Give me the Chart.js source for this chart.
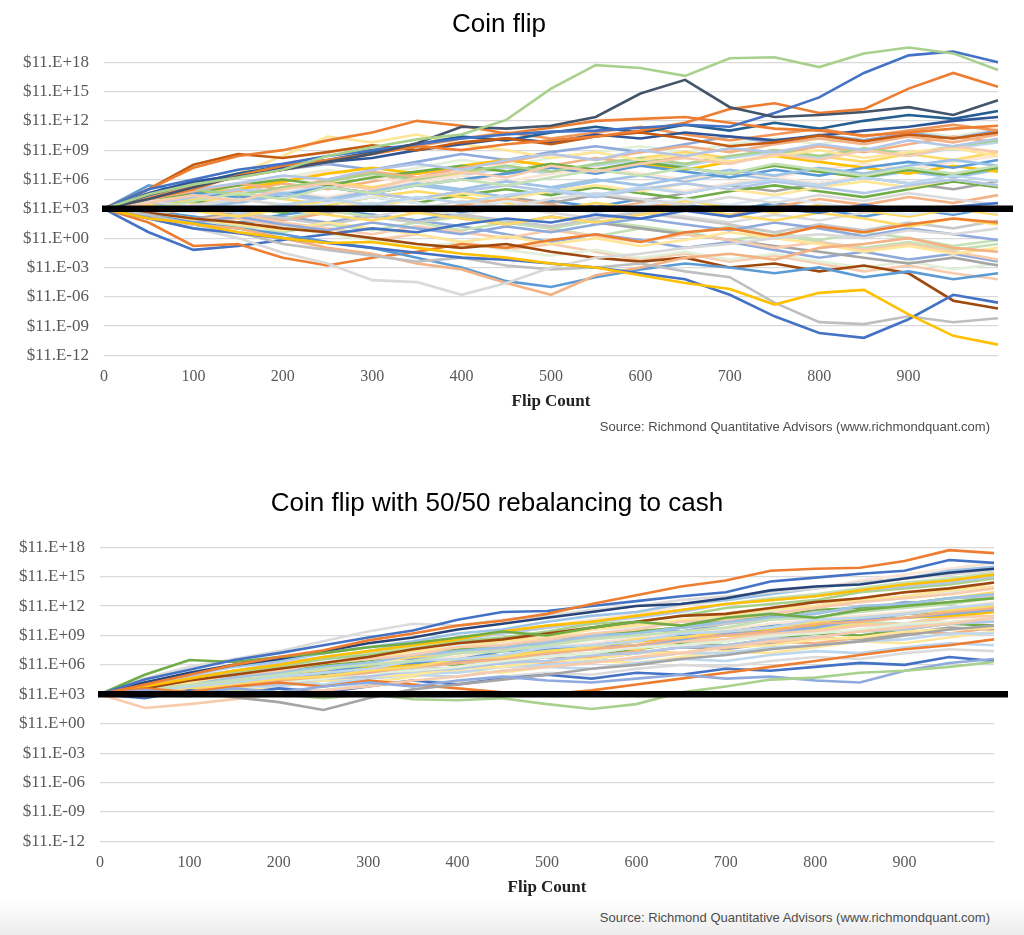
<!DOCTYPE html>
<html>
<head>
<meta charset="utf-8">
<script src="https://cdn.jsdelivr.net/npm/chart.js@4.4.1/dist/chart.umd.min.js"></script>
<style>
  body{margin:0;width:1024px;height:935px;overflow:hidden;background:linear-gradient(to bottom,#fff 0,#fff 900px,#ececec 935px);font-family:"Liberation Sans",Arial,sans-serif}
  .box{position:absolute;left:0;width:1024px}
  .source{position:absolute;right:34px;font-size:13px;color:#4d4d4d;line-height:16px;white-space:nowrap}
</style>
</head>
<body>
<div class="box" style="top:0"><canvas id="coinflipchart" width="1024" height="420"></canvas></div>
<div class="source" style="top:419px">Source: Richmond Quantitative Advisors (www.richmondquant.com)</div>
<div class="box" style="top:470px"><canvas id="rebalancechart" width="1024" height="436"></canvas></div>
<div class="source" style="top:910px">Source: Richmond Quantitative Advisors (www.richmondquant.com)</div>
<script>
// flip counts where each path is sampled
const flips = [0,50,100,150,200,250,300,350,400,450,500,550,600,650,700,750,800,850,900,950,1000]
// y values are powers of ten (exponents)
const yMin = -12, yMax = 18, yStep = 3
const startExponent = 3
const xTicksShown = [0,100,200,300,400,500,600,700,800,900]

// coin flip, no rebalancing
const coinflipPaths = [
  [3,4.5,5.5,6.2,7,8.4,9.3,10.1,10.6,12.1,15.3,17.7,17.4,16.6,18.4,18.5,17.5,18.9,19.5,18.9,17.2],
  [3,4,5.2,6.3,7,7.8,8.6,9.7,11.4,11.2,11.5,12.4,14.8,16.2,13.4,12.4,12.6,12.9,13.4,12.6,14.1],
  [3,5,6,7,7.6,8.4,9,9.6,10.2,10.6,10.9,11,11.3,11.6,11.4,12.8,14.4,16.9,18.7,19.1,18],
  [3,4,5,6.4,7.4,8,8.6,9.4,9,9.6,10,10.4,11,11.8,13.2,13.8,12.8,13.2,15.3,16.9,15.5],
  [3,5,7.2,8.4,9,10,10.8,12,11.5,10.7,11.3,12,12.2,12.4,11.8,11.2,11,10.5,10.8,11.2,11.5],
  [3,5,7.5,8.6,8.2,8.8,9.5,9,9.8,10.2,9.6,10.4,10.8,10.2,9.4,9.8,10.5,9.9,10.6,10.2,10.8],
  [3,4.6,5.8,6.4,7.2,7.8,8.2,9,9.6,10.2,9.8,10.6,10.2,10.8,10.4,10,10.5,11,11.4,12,12.4],
  [3,4.4,5.6,6.6,7.4,8,8.8,9.6,10.4,10,10.8,11.4,10.8,11.6,11,11.8,11.2,12,12.6,12.2,13],
  [3,4.2,5.4,6.2,7,7.8,8.6,9.4,10.2,10.8,10.2,10.8,11.4,10.6,10,10.6,11.2,10.4,11,11.6,11],
  [3,2,1.5,0.6,0,-0.5,-0.4,-1,-1.6,-2,-2.6,-3,-3.8,-4.6,-5.2,-6.8,-5.6,-5.3,-7.8,-10,-10.9],
  [3,2,1,0.5,0,-0.5,-1,-1.5,-2,-2.2,-2.6,-3,-3.6,-4.2,-5.8,-8,-9.7,-10.2,-8.3,-5.8,-6.6],
  [3,2,1,0,-1.5,-2.6,-4.3,-4.5,-5.8,-4.6,-3,-2,-1.6,-1,-0.6,0,0.4,0,0.8,0.4,1],
  [3,2.4,1.4,0.6,-0.6,-1.2,-1.8,-2.4,-2,-2.8,-3.2,-3,-2.6,-3.4,-4,-6.6,-8.6,-8.8,-8,-8.6,-8.2],
  [3,2,1.4,1,0,-1,-1.6,-2.6,-3.2,-4.6,-5.8,-3.8,-3,-2,-1.6,-2.2,-1,-0.6,0,-1,-1.4],
  [3,2.4,1.6,1,0.4,-0.4,-1,-2,-3,-4.4,-5,-4,-3.2,-2.6,-3,-3.6,-3,-4,-3.4,-4.2,-3.6],
  [3,2.6,2,1.6,1,0.6,0,-0.6,-1,-0.6,-1.4,-2,-2.4,-2,-3,-2.6,-3.4,-2.8,-3.6,-6.4,-7.2],
  [3,1.6,-0.8,-0.6,-2,-2.8,-2,-1.4,-0.6,-1,-0.2,0.4,-0.4,0.6,1,0.2,1.2,0.6,1.4,2,1.6],
  [3,0.6,-1.2,-0.8,-0.2,0.4,1,0.6,1.4,2,1.6,2.4,2,2.8,2.2,3,2.6,3.4,2.8,3.2,3.6],
  [3,4,5,5.6,6.4,6,7,7.6,7,8,8.6,8,9,8.4,9.2,8.8,9.6,9,10,9.4,10.2],
  [3,3.6,4.4,3.8,5,5.6,5,6.2,6.8,6.2,7.4,6.8,7.6,8.2,7.6,8.6,8,9,8.4,9.4,8.8],
  [3,4.4,5.4,6.6,8.4,10.4,9.8,10.6,9.6,9,8.2,8.8,8,8.6,7.8,8.4,9,8.2,8.8,9.2,8.4],
  [3,3,3.8,4.6,4,5.2,4.6,5.4,6,5.4,6.2,7,6.4,7.2,6.6,7.6,7,6.4,7.2,6.6,7.4],
  [3,2.4,3.2,2.6,3.4,4,3.4,4.2,3.6,4.4,5,4.4,5.2,4.6,5.4,6,5.4,6.2,5.6,6.4,5.8],
  [3,3.8,3.2,4,3.4,2.8,3.6,3,3.8,3.2,4,4.6,4,3.4,4.2,3.6,4.4,3.8,4.6,4,3.4],
  [3,3.4,2.8,2.2,3,2.4,1.8,2.6,2,1.4,2.2,1.6,2.4,3,2.4,1.8,2.6,2,1.2,2,1.4],
  [3,4.2,5,4.4,5.2,5.8,6.6,6,6.8,7.4,6.8,7.6,8.2,7.6,8.4,9,8.4,9.2,8.6,9.4,10],
  [3,2.2,1.6,2.2,1.4,0.8,1.6,1,0.4,1.2,0.6,1.4,2,1.4,0.8,1.6,1,0.2,1,0.4,-0.2],
  [3,4,4.8,5.6,5,6,6.8,6.2,7.2,7.8,8.6,8,8.8,9.4,8.8,9.6,10.2,9.6,10.4,9.8,10.6],
  [3,3.6,3,3.8,4.6,4,4.8,5.6,5,5.8,5.2,6,5.4,6.2,7,6.4,7.2,6.6,7.4,8,7.4],
  [3,2.6,2,1.4,0.8,1.6,1,0.4,-0.4,0.2,-0.6,0,-0.8,-0.2,0.6,0,-0.6,-1.4,-0.8,-1.6,-1],
  [3,2.4,3.2,2.6,2,1.4,2.2,1.6,2.4,1.8,1.2,2,2.6,2,1.4,0.6,1.4,0.8,1.6,1,1.8],
  [3,3.4,4.2,5,4.4,3.8,4.6,4,4.8,5.4,4.8,4.2,5,5.6,5,5.8,5.2,4.6,5.4,6,5.4],
  [3,2.6,1.8,2.4,1.6,1,0.4,1.2,0.6,0,0.8,0.2,-0.4,0.4,-0.2,-1,-0.4,-1.2,-0.6,-1.4,-2.2],
  [3,5.4,4.6,4.2,4.4,5.2,4.6,5.4,6,6.6,7.2,6.6,7.4,6.8,6.2,7,6.4,7.2,7.8,7.2,8],
  [3,4,4.6,5.4,6,5.4,6.2,6.8,7.4,6.8,7.6,7,7.8,7.2,6.6,7.4,6.8,6.2,7,6.4,7.2],
  [3,3.6,4.4,5,5.8,6.6,7.2,6.6,7.4,8,7.4,6.8,7.6,7,7.8,8.4,7.8,7.2,6.6,7.4,6.8],
  [3,2.6,2,2.6,3.2,2.6,3.4,2.8,2,1.4,2.2,1.6,1,0.4,-0.2,-0.8,-1.4,-2,-2.6,-2,-2.8],
  [3,3.2,2.6,3.4,2.8,3.6,4.2,3.6,3,3.8,3.2,2.6,3.4,4,3.4,4.2,3.6,3,2.4,3.2,2.6],
  [3,3.8,4.6,5.2,6,6.8,6.2,5.6,6.4,5.8,6.6,7.2,6.6,6,6.8,6.2,7,7.6,7,7.8,8.4],
  [3,2.2,1.4,0.6,1.2,0.4,-0.2,-1,-0.4,-1.2,-1.8,-1.2,-2,-1.4,-2.2,-1.6,-2.4,-3,-2.4,-3.2,-2.6],
  [3,4.6,5.8,6.4,7,7.6,7,7.8,8.6,8,8.8,9.4,8.8,9.6,10.4,9.8,10.6,10,10.8,10.2,11],
  [3,2.4,3,2.4,1.8,2.6,3.2,2.6,3.4,4,3.4,2.8,3.6,3,2.4,3.2,4,3.4,4.2,3.6,4.4],
  [3,3.4,4,4.6,4,3.4,4.2,4.8,4.2,3.6,2.8,3.6,3,3.8,3.2,2.6,3.4,2.8,2.2,3,2.4],
  [3,2.6,2,1.2,0.6,1.4,0.8,1.6,2.2,1.6,1,1.8,1.2,0.6,-0.2,0.4,-0.4,-1,-0.4,-1.2,-0.6],
  [3,3.8,4.4,5.2,4.6,5.4,6.2,5.6,6.4,7.2,6.6,7.4,8,7.4,8.2,8.8,8.2,9,8.4,9.2,9.8],
  [3,2.2,1.4,2,1.2,0.6,-0.2,0.4,-0.4,-1.2,-0.6,-1.4,-2.2,-1.6,-2.4,-1.8,-2.6,-3.4,-2.8,-3.6,-4.2],
  [3,3.6,3,2.4,3.2,3.8,3.2,4,4.6,4,4.8,5.4,4.8,5.6,5,4.4,5.2,5.8,5.2,6,5.4],
  [3,2.4,1.8,2.6,2,2.8,2.2,1.6,0.8,1.6,1,0.2,1,0.4,1.2,0.6,-0.2,0.6,0,-0.8,-0.2],
  [3,3.4,2.8,3.6,4.4,5.2,4.6,5.4,4.8,4.2,5,5.8,6.4,5.8,6.6,6,5.4,6.2,6.8,6.2,7],
  [3,3.8,4.6,4,4.8,4.2,5,5.8,6.4,5.8,5.2,6,5.4,4.8,5.6,6.2,5.6,6.4,7,6.4,7.2],
  [3,2.6,3.4,4,3.4,2.8,2.2,3,2.4,3.2,2.6,2,2.8,2.2,1.6,2.4,1.8,2.6,3.2,2.6,3.4],
  [3,3.2,3.8,3.2,2.6,3.4,4.2,3.6,4.4,5,4.4,5.2,4.6,4,4.8,5.4,4.8,4.2,5,5.8,5.2],
  [3,4.2,3.6,4.4,5.2,5.8,5.2,6,6.6,7.2,6.6,7.4,8.2,8.8,8.2,9,8.4,7.8,8.6,8,8.8],
  [3,2.6,2,1.4,2.2,1.6,2.4,1.8,1.2,0.4,-0.4,0.4,-0.2,-1,-0.4,-1.2,-2,-1.4,-2.2,-1.6,-2.4],
  [3,3.4,4,4.8,5.6,5,5.8,6.6,7.2,8,7.4,8.2,7.6,8.4,9.2,8.6,9.4,8.8,9.6,10.4,9.8],
  [3,3.8,4.4,3.8,4.6,5.2,4.6,4,4.8,4.2,3.6,4.4,3.8,4.6,5.4,4.8,5.6,6.2,5.6,5,5.8],
  [3,2.8,2.2,1.6,2.4,3,2.4,1.8,2.6,3.2,3.8,3.2,4,3.4,2.8,3.6,3,2.2,3,2.4,3.2],
  [3,4,4.8,5.4,6.2,7,6.4,7.2,8,7.4,8.2,8.8,9.4,8.8,9.6,10.2,9.6,10.4,11,10.4,11.2]
]
const coinflipColors = [
  '#A9D18E','#44546A','#4472C4','#ED7D31','#ED7D31','#C55A11','#2F5597','#255E91','#F1975A',
  '#FFC000','#4472C4','#D9D9D9','#BFBFBF','#F4B183','#5B9BD5','#9E480E','#ED7D31','#4472C4',
  '#B4C7E7','#F8CBAD','#FFE699','#C5E0B4','#BDD7EE','#DBDBDB','#FFD966','#A9D18E','#8FAADC',
  '#F4B183','#9DC3E6','#FFE699','#C9C9C9','#B4C7E7','#F8CBAD','#5B9BD5','#70AD47','#FFC000',
  '#A5A5A5','#DEEBF7','#FBE5D6','#E2F0D9','#8FAADC','#F4B183','#FFD966','#C5E0B4',
  '#BDD7EE','#F8CBAD','#FFE699','#C5E0B4','#9DC3E6','#FBE5D6','#DBDBDB','#70AD47','#FFD966',
  '#8FAADC','#F4B183','#A5A5A5','#5B9BD5','#E2F0D9'
]

// coin flip with 50/50 rebalancing to cash
const rebalancePaths = [
  [3,4,5,6,6.8,7.5,8.5,9.2,10,10.5,11.2,12.2,13.1,14,14.6,15.6,15.8,15.9,16.6,17.7,17.4],
  [3,4.5,5.5,6.5,7.2,8,8.8,9.5,10.6,11.4,11.5,12,12.5,13,13.4,14.5,14.9,15.3,15.6,16.7,16.4],
  [3,5,6.5,6.3,6.8,7.2,7.8,8.2,8.8,9.4,9,9.8,10.4,10,10.8,11.2,10.8,11.6,12,12.4,12.8],
  [3,3.2,2.8,3.3,3,2.6,3,2.5,2.4,2.6,2,1.5,2,3.2,3.8,4.5,4.7,5.2,5.4,5.8,6.3],
  [3,3.4,3,3.6,3.2,3.8,4.2,3.8,4.4,4.8,4.4,4.2,4.6,5,4.6,4.8,4.4,4.2,5.4,6.2,6.6],
  [3,2.8,3.2,2.7,2.2,1.4,2.6,3.5,4,4.5,5,5.6,6,6.6,7,7.6,8,8.4,9,9.6,10],
  [3,1.6,2,2.5,3,3.4,3.8,4.4,4.8,5.4,5.8,6.2,6.8,7.2,7.8,8.4,8.8,9.4,9.8,10.2,10.8],
  [3,3.6,3.2,3.8,4.2,3.8,4.4,4,3.6,3.2,3,3.4,4,4.6,5.2,5.8,6.4,7,7.6,8,8.6],
  [3,2.6,3.4,3,3.6,3.2,3.8,4.4,4,4.6,5,4.6,5.2,5,5.6,5.4,5.8,6.2,6,6.8,6.4],
  [3,4.2,5.2,6,6.6,7.4,8.2,8.8,9.6,10.2,10.8,11.4,12,12.2,12.8,13.6,14,14.2,14.8,15.4,15.8],
  [3,3.8,4.6,5.4,6,6.8,7.4,8,8.6,9.4,10,10.4,11,11.6,12.2,12.6,13,13.6,14.2,14.6,15.2],
  [3,3.6,4.4,5,5.6,6.2,6.8,7.6,8.2,8.6,9.2,9.8,10.4,11,11.2,11.8,12.4,12.8,13.4,13.8,14.4],
  [3,4,4.8,5.4,6.2,6.8,7.4,8.2,8.6,9.2,9.8,10.4,10.8,11.4,12.2,12.6,13,13.6,14,14.4,15],
  [3,3.6,4.4,5,5.4,6.2,6.6,7,7.8,8,8.6,9.2,9.6,10.4,10.6,11.2,11.8,12.4,12.8,13.2,13.8],
  [3,3.8,4.2,5,5.6,6.2,6.6,7.4,7.8,8.4,8.8,9.6,10,10.6,11,11.6,12,12.6,13,13.6,14],
  [3,3.4,4,4.4,5,5.6,6,6.4,7.2,7.4,8,8.6,9,9.4,9.8,10.6,10.8,11.4,11.8,12.2,12.8],
  [3,3.2,3.8,4.2,4.8,5.2,5.6,6.4,6.6,7,7.8,8,8.4,9.2,9.4,9.8,10.6,10.8,11.2,11.8,12.2],
  [3,4.6,5.8,6.6,7.4,8.4,9.4,10.2,10,10.6,11,11.6,12,12.6,13,13.4,13.8,14.4,14.8,15.2,15.6],
  [3,3,3.6,4,4.6,4.8,5.4,5.8,6.6,6.8,7.4,7.8,8.6,8.8,9.4,9.8,10.4,10.8,11.2,11.6,12],
  [3,3.6,4,4.8,5.2,5.8,6.2,7,7.4,7.8,8.2,9,9.2,9.8,10.4,10.8,11.2,12,12.2,12.8,13.2],
  [3,2.8,3.4,3.8,4.4,4.8,5.2,5.8,6.2,6.6,7.2,7.6,8,8.8,9,9.4,10.2,10.4,10.8,11.4,11.8],
  [3,3.8,4.6,5.2,5.8,6.6,7,7.6,8.4,8.8,9.4,10.2,10.4,11,11.8,12.2,12.6,13.4,13.8,14.2,14.8],
  [3,3.2,3.6,4.2,4.4,5.2,5.4,5.8,6.4,6.8,7.2,7.8,8,8.6,9.2,9.4,9.8,10.6,10.8,11.2,11.6],
  [3,3.4,4.2,4.6,5.4,5.6,6.2,7,7.2,7.6,8.4,8.8,9.2,9.8,10.2,10.6,11.4,11.6,12,12.8,13],
  [3,3.6,4,4.8,5,5.6,6.2,6.4,6.8,7.6,7.8,8.2,8.8,9.2,9.6,10.2,10.6,11,11.4,11.8,12.4],
  [3,3.8,4.6,5,5.6,6.4,6.6,7.2,8,8.2,8.8,9.6,9.8,10.4,11,11.4,11.8,12.6,12.8,13.4,13.8],
  [3,3,3.4,4,4.2,4.6,5.2,5.4,5.8,6.4,6.8,7.2,7.8,8,8.4,9,9.2,9.6,10.2,10.4,10.8],
  [3,3.4,3.8,4.6,4.8,5.2,6,6.2,6.6,7.4,7.6,8,8.8,9,9.4,10,10.2,10.6,11.2,11.4,11.8],
  [3,3.6,4.4,4.8,5.4,6,6.4,7,7.6,7.8,8.4,9,9.4,9.8,10.6,10.8,11.6,11.8,12.2,12.8,13],
  [3,3.2,4,4.2,5,5.2,5.8,6,6.8,7,7.4,7.8,8.4,8.8,9.4,9.6,10,10.6,10.8,11,11.4],
  [3,2.8,3.2,3.8,4,4.6,4.8,5.4,5.6,6.2,6.4,7,7.2,7.8,8,8.6,8.8,9.4,9.6,10.2,10.4],
  [3,3.4,3.8,4.4,4.8,5.2,5.6,6,6.4,6.8,7.2,7.6,8,8.4,8.6,9.2,9.4,10,10.2,10.8,11],
  [3,3,3.4,3.6,4.2,4.4,4.8,5,5.6,5.8,6.4,6.6,7.2,7.2,7.8,8,8.6,8.8,9.4,9.6,9.8],
  [3,3.6,4.4,5.2,5.8,6.6,7.2,7.8,8.6,9.2,9.8,10.4,11,11.6,12.2,12.8,13.2,13.8,14.4,14.8,15.4],
  [3,3.2,3.2,3.8,3.8,4.4,4.6,5.2,5.2,5.8,6,6.4,6.6,7.2,7.2,7.8,8,8.4,8.6,9.2,9.2],
  [3,3.4,4,4.8,5.2,5.8,6.2,6.8,7.2,8,8.2,8.8,9.4,9.8,10.2,10.8,11.2,12,12.2,12.8,13.4],
  [3,3.2,3.8,4,4.6,4.8,5.4,5.6,6.2,6.4,7,7.2,7.8,8,8.6,8.8,9.4,9.4,10,10.2,10.6],
  [3,3.4,3.2,3.8,4.2,4,4.6,5,4.8,5.4,5.8,5.6,6.2,6.6,6.4,7,7.4,7.2,7.8,8.2,8],
  [3,3.8,4.2,5,5.8,6.2,7,7.2,8,8.6,8.8,9.6,10.2,10.4,11.2,11.8,12,12.8,13.4,13.6,14.4],
  [3,2.8,3.4,3.2,3.8,4.4,4.2,4.8,5.4,5.2,5.8,6.4,6.2,6.8,7.4,7.2,7.8,8.4,8.2,8.8,9.4],
  [3,3.6,4.4,4.2,5,5.6,5.4,6.2,6.8,6.6,7.4,8,7.8,8.6,9.2,9,9.8,10.4,10.2,11,11.6],
  [3,4.2,5,5.8,6.4,7.2,7.8,8.4,9.2,9.6,10.4,11,11.4,12.2,12.6,13.2,13.8,14.4,14.8,15.6,16],
  [3,3,2.8,3.4,3.6,3.4,4,4.4,4.2,4.8,5.2,5,5.6,6,5.8,6.4,6.8,6.6,7.2,7.6,7.4],
  [3,3.6,4.2,4,4.8,5.4,5.2,6,6.6,6.4,7.2,7.8,7.6,8.4,9,8.8,9.6,10.2,10,10.8,11.4],
  [3,3.2,3.8,4.4,4.2,4.8,5.4,5.2,5.8,6.4,6.2,6.8,7.4,7.2,7.8,8.4,8.2,8.8,9.4,9.2,9.8],
  [3,3.8,4.6,5.4,5.2,6,6.8,6.6,7.4,8.2,8,8.8,9.6,9.4,10.2,11,10.8,11.6,12.4,12.2,13],
  [3,3.4,4,4.6,5.2,5,5.6,6.2,6,6.6,7.2,7,7.6,8.2,8,8.6,9.2,9,9.6,10.2,10],
  [3,3.6,4.4,5.2,6,6.6,7.4,8,8.6,9.4,10,10.6,11.2,12,12.6,13.2,13.8,14.6,15.2,15.8,16.4],
  [3,3.2,3.6,4.2,4.8,4.6,5.2,5.8,5.6,6.2,6.8,6.6,7.2,7.8,7.6,8.2,8.8,8.6,9.2,9.8,9.6]
]
const rebalanceColors = [
  '#ED7D31','#4472C4','#70AD47','#A9D18E','#8FAADC','#A5A5A5','#F8CBAD','#ED7D31','#4472C4',
  '#264478','#FFC000','#9E480E','#B4C7E7','#F8CBAD','#FFE699','#C5E0B4','#BDD7EE','#DBDBDB',
  '#FFD966','#9DC3E6','#F4B183','#A9D18E','#8FAADC','#C9C9C9','#FBE5D6','#DEEBF7','#E2F0D9',
  '#5B9BD5','#70AD47','#FFC000','#B4C7E7','#F8CBAD','#FFE699','#C5E0B4','#BDD7EE','#FFD966','#DBDBDB',
  '#BDD7EE','#F8CBAD','#FFE699','#C5E0B4','#9DC3E6','#DBDBDB','#FFD966','#F4B183','#8FAADC',
  '#70AD47','#FBE5D6','#A5A5A5'
]

const tickcolor = '#595959'
const serif = "'Liberation Serif', 'Times New Roman', serif"

function formatexponent(v){
    const sign = v < 0 ? '-' : '+'
    return '$11.E' + sign + String(Math.abs(v)).padStart(2,'0')
}

// thick black line at the starting level, runs a bit past the plot
const startline = {
    id:'startline',
    afterDatasetsDraw(chart, args, opts){
        const {ctx, chartArea, scales} = chart
        const ypos = scales.y.getPixelForValue(startExponent)
        ctx.save()
        ctx.strokeStyle = '#000'
        ctx.lineWidth = opts.width
        ctx.beginPath()
        ctx.moveTo(scales.x.getPixelForValue(0) - 2, ypos)
        ctx.lineTo(chartArea.right + opts.overhang, ypos)
        ctx.stroke()
        ctx.restore()
    }
}

function buildchart(canvasid, titletext, paths, colors, cfg){
    const datasets = paths.map((path, i) => ({
        data: path.map((v, j) => ({x: flips[j], y: v})),
        borderColor: colors[i % colors.length],
        borderWidth: 2.6,
        pointRadius: 0,
        tension: 0,
        clip: false
    }))
    return new Chart(document.getElementById(canvasid).getContext('2d'), {
        type: 'line',
        data: {datasets: datasets},
        plugins: [startline],
        options: {
            responsive: false,
            animation: false,
            events: [],
            layout: {padding: {left: 0, right: cfg.padright, top: 0, bottom: 4}},
            plugins: {
                legend: {display: false},
                tooltip: {enabled: false},
                title: {
                    display: true,
                    text: titletext,
                    color: '#000',
                    font: {family: "'Liberation Sans', Arial, sans-serif", size: 26, weight: 'normal'},
                    padding: {top: cfg.titletop, bottom: cfg.titlebottom}
                },
                startline: {width: 6.5, overhang: cfg.overhang}
            },
            scales: {
                x: {
                    type: 'linear',
                    min: 0,
                    max: 1000,
                    grid: {display: false, drawTicks: false},
                    border: {display: false},
                    afterBuildTicks: (axis) => {
                        axis.ticks = xTicksShown.map(v => ({value: v}))
                    },
                    ticks: {color: tickcolor, font: {family: serif, size: 16}, padding: 12, maxRotation: 0},
                    title: {
                        display: true,
                        text: 'Flip Count',
                        color: '#222',
                        font: {family: serif, size: 17, weight: 'bold'},
                        padding: {top: -7, bottom: 4}
                    }
                },
                y: {
                    min: yMin,
                    max: yMax,
                    afterFit: (scale) => { scale.width = cfg.yaxiswidth },
                    grid: {color: '#d9d9d9', lineWidth: 1.2, drawTicks: false},
                    border: {display: false},
                    ticks: {
                        stepSize: yStep,
                        color: tickcolor,
                        padding: 15,
                        font: {family: serif, size: 17},
                        callback: (v) => formatexponent(v)
                    }
                }
            }
        }
    })
}

buildchart('coinflipchart', 'Coin flip', coinflipPaths, coinflipColors,
    {padright: 26, titletop: 9, titlebottom: 22, yaxiswidth: 104, overhang: 15})
buildchart('rebalancechart', 'Coin flip with 50/50 rebalancing to cash', rebalancePaths, rebalanceColors,
    {padright: 30, titletop: 18, titlebottom: 28, yaxiswidth: 100, overhang: 14})
</script>
</body>
</html>
